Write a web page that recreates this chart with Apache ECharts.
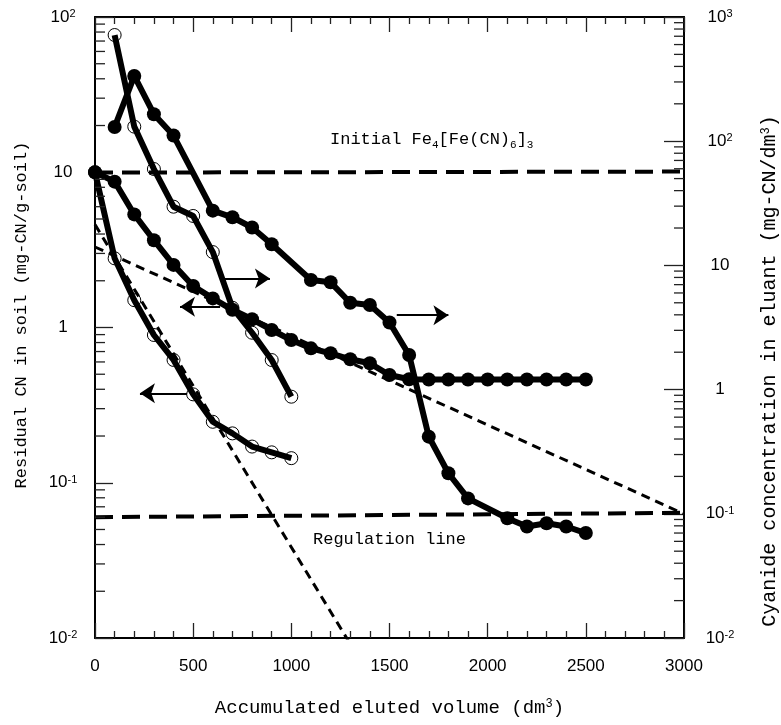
<!DOCTYPE html>
<html><head><meta charset="utf-8">
<script src="https://cdn.jsdelivr.net/npm/echarts@6/dist/echarts.min.js"></script>
<style>html,body{margin:0;padding:0;background:#fff}#c{width:781px;height:725px}</style>
</head><body><div id="c"></div>
<script>
// ---- data ----
// residual CN in soil (left axis), open circles
const volSoilOpen = [0,100,200,300,400,500,600,700,800,900,1000];
const soilOpen = [10,2.79,1.50,0.895,0.618,0.371,0.247,0.208,0.171,0.157,0.144];
// residual CN in soil (left axis), filled circles
const volSoilFilled = [0,100,200,300,400,500,600,700,800,900,1000,1100,1200,1300,1400,1500,1600,1700,1800,1900,2000,2100,2200,2300,2400,2500];
const soilFilled = [10,8.7,5.35,3.65,2.53,1.85,1.54,1.30,1.13,0.964,0.83,0.734,0.682,0.624,0.588,0.494,0.464,0.462,0.462,0.462,0.462,0.462,0.462,0.462,0.462,0.462];
// cyanide concentration in eluant (right axis), open circles
const volEluOpen = [100,200,300,400,500,600,700,800,900,1000];
const eluOpen = [716,131,59.7,29.7,25.0,12.8,4.56,2.87,1.73,0.877];
// cyanide concentration in eluant (right axis), filled circles
const volEluFilled = [100,200,300,400,600,700,800,900,1100,1200,1300,1400,1500,1600,1700,1800,1900,2100,2200,2300,2400,2500];
const eluFilled = [130,335,165,111,27.6,24.4,20.2,14.8,7.63,7.31,5.0,4.8,3.47,1.90,0.418,0.212,0.133,0.092,0.079,0.084,0.079,0.070];
// dotted model lines (left axis)
const fitSteepX = [0,1290];
const fitSteepY = [4.6,0.0096];
const fitShallowX = [0,3000];
const fitShallowY = [3.3,0.063];
// dashed reference lines (left axis)
const initialX = [0,3000];
const initialY = [9.95,10.1];
const regulationX = [0,3000];
const regulationY = [0.060,0.064];
// arrows (left-axis coordinates): tail x, tip x, y
const arrowTailX = [653,637,469,1537];
const arrowTipX  = [891,433,229,1800];
const arrowY     = [2.07,1.36,0.377,1.2];
// ticks
const xTicks = [0,500,1000,1500,2000,2500,3000];
const leftTicks = [0.01,0.1,1,10,100];
const rightTicks = [0.01,0.1,1,10,100,1000];

function minorLog(lo, hi){const out=[];for(let d=lo; d<hi*0.99; d*=10){for(let k=2;k<=9;k++){out.push(+(d*k).toPrecision(3));}}return out;}
const leftMinor = minorLog(0.01,100);
const rightMinor = minorLog(0.01,1000);

const pairs = (xs, ys) => xs.map((x,i)=>[x, ys[i]]);
const expLabel = v => { const e = Math.round(Math.log10(v)); if (e===0) return '1'; if (e===1) return '10'; return '10{sup|'+e+'}'; };
const SANS = '"Liberation Sans", Arial, sans-serif';
const MONO = '"Liberation Mono", "Courier New", monospace';
const labelRich = { sup: { fontSize: 11, fontFamily: SANS, color:'#000', verticalAlign: 'top', padding:[0,0,6,0] } };

const chart = echarts.init(document.getElementById('c'), null, {renderer:'canvas'});

const axisLineStyle = {color:'#000', width:2};
const tickStyle = {color:'#222', width:1.3};

const xBase = {
  type:'value', min:0, max:3000, interval:500,
  axisLine:{show:true, onZero:false, lineStyle:axisLineStyle},
  axisTick:{show:true, inside:true, length:15, lineStyle:tickStyle},
  minorTick:{show:true, splitNumber:5, length:7, lineStyle:tickStyle},
  splitLine:{show:false}, minorSplitLine:{show:false}
};

function minorTickSeries(yIdx, values, atX, dir){
  return { type:'custom', xAxisIndex:0, yAxisIndex:yIdx, silent:true, clip:false, z:5,
    data: values.map(v=>[atX, v]),
    renderItem:(params, api)=>{
      const p = api.coord([api.value(0), api.value(1)]);
      return {type:'line', shape:{x1:p[0], y1:p[1], x2:p[0]+dir*10, y2:p[1]},
        style:{stroke:'#222', lineWidth:1.3}};
    } };
}

const option = {
  animation:false,
  backgroundColor:'#fff',
  grid:{left:95, right:97, top:17, bottom:87, containLabel:false, outerBoundsMode:'none'},
  xAxis:[
    Object.assign({}, xBase, {
      position:'bottom',
      axisLabel:{show:true, margin:20, fontSize:17, fontFamily:SANS, color:'#000',
        formatter: v => String(v)},
      name:'Accumulated eluted volume (dm{sup|3})', nameLocation:'middle', nameGap:60,
      nameTextStyle:{fontSize:19, fontFamily:MONO, color:'#000',
        rich:{ sup:{ fontSize:12, fontFamily:MONO, color:'#000', verticalAlign:'top', padding:[0,0,6,0] } }}
    }),
    Object.assign({}, xBase, {position:'top', axisLabel:{show:false}})
  ],
  yAxis:[
    { type:'log', logBase:10, min:0.01, max:100, position:'left',
      axisLine:{show:true, onZero:false, lineStyle:axisLineStyle},
      axisTick:{show:true, inside:true, length:18, lineStyle:tickStyle},
      axisLabel:{show:true, align:'center', margin:32, fontSize:17, fontFamily:SANS, color:'#000',
        formatter:expLabel, rich:labelRich},
      splitLine:{show:false}
    },
    { type:'log', logBase:10, min:0.01, max:1000, position:'right',
      axisLine:{show:true, onZero:false, lineStyle:axisLineStyle},
      axisTick:{show:true, inside:true, length:20, lineStyle:tickStyle},
      axisLabel:{show:true, align:'center', margin:36, fontSize:17, fontFamily:SANS, color:'#000',
        formatter:expLabel, rich:labelRich},
      splitLine:{show:false}
    }
  ],
  graphic:[
    { type:'text', x:21, y:315, rotation:Math.PI/2, z:100,
      style:{ text:'Residual CN in soil (mg-CN/g-soil)', fill:'#000', font:'17px '+MONO,
        align:'center', verticalAlign:'middle' } },
    { type:'text', x:770, y:371, rotation:Math.PI/2, z:100,
      style:{ text:'Cyanide concentration in eluant (mg-CN/dm{sup|3})', fill:'#000', font:'20px '+MONO,
        align:'center', verticalAlign:'middle',
        rich:{ sup:{ fontSize:12, fontFamily:MONO, fill:'#000', verticalAlign:'top', padding:[0,0,7,0] } } } },
    { type:'text', left:330, top:131, z:100,
      style:{ text:'Initial Fe{sub|4}[Fe(CN){sub|6}]{sub|3}', fill:'#000',
        font:'17px '+MONO,
        rich:{ sub:{ fontSize:11, fontFamily:MONO, fill:'#000', verticalAlign:'bottom', padding:[12,0,0,0] } } } },
    { type:'text', left:313, top:531, z:100,
      style:{ text:'Regulation line', fill:'#000', font:'17px '+MONO } }
  ],
  series:[
    minorTickSeries(0, leftMinor, 0, 1),
    minorTickSeries(1, rightMinor, 3000, -1),
    { name:'initial', type:'line', xAxisIndex:0, yAxisIndex:0, data:pairs(initialX, initialY),
      symbol:'none', lineStyle:{color:'#000', width:4, type:[18,9]}, silent:true,
      markLine:{ silent:true, symbol:['none','arrow'], symbolSize:15, label:{show:false},
        lineStyle:{color:'#000', width:2, type:'solid'}, emphasis:{disabled:true},
        data: arrowY.map((y,i)=>[{coord:[arrowTailX[i], y]},{coord:[arrowTipX[i], y]}]) } },
    { name:'regulation', type:'line', xAxisIndex:0, yAxisIndex:0, data:pairs(regulationX, regulationY),
      symbol:'none', lineStyle:{color:'#000', width:4, type:[18,9]}, silent:true },
    { name:'fitSteep', type:'line', xAxisIndex:0, yAxisIndex:0, data:pairs(fitSteepX, fitSteepY),
      symbol:'none', clip:true, lineStyle:{color:'#000', width:3, type:[9,6]}, silent:true },
    { name:'fitShallow', type:'line', xAxisIndex:0, yAxisIndex:0, data:pairs(fitShallowX, fitShallowY),
      symbol:'none', lineStyle:{color:'#000', width:3, type:[9,6]}, silent:true },
    { name:'soilOpen', type:'line', xAxisIndex:0, yAxisIndex:0, data:pairs(volSoilOpen, soilOpen),
      symbol:'circle', symbolSize:13, showAllSymbol:true,
      itemStyle:{color:'rgba(255,255,255,0)', borderColor:'#000', borderWidth:1},
      lineStyle:{color:'#000', width:6}, silent:true },
    { name:'soilFilled', type:'line', xAxisIndex:0, yAxisIndex:0, data:pairs(volSoilFilled, soilFilled),
      symbol:'circle', symbolSize:14, showAllSymbol:true,
      itemStyle:{color:'#000'}, lineStyle:{color:'#000', width:6}, silent:true },
    { name:'eluOpen', type:'line', xAxisIndex:0, yAxisIndex:1, data:pairs(volEluOpen, eluOpen),
      symbol:'circle', symbolSize:13, showAllSymbol:true,
      itemStyle:{color:'rgba(255,255,255,0)', borderColor:'#000', borderWidth:1},
      lineStyle:{color:'#000', width:6}, silent:true },
    { name:'eluFilled', type:'line', xAxisIndex:0, yAxisIndex:1, data:pairs(volEluFilled, eluFilled),
      symbol:'circle', symbolSize:14, showAllSymbol:true,
      itemStyle:{color:'#000'}, lineStyle:{color:'#000', width:6}, silent:true }
  ]
};
chart.setOption(option);
</script></body></html>
